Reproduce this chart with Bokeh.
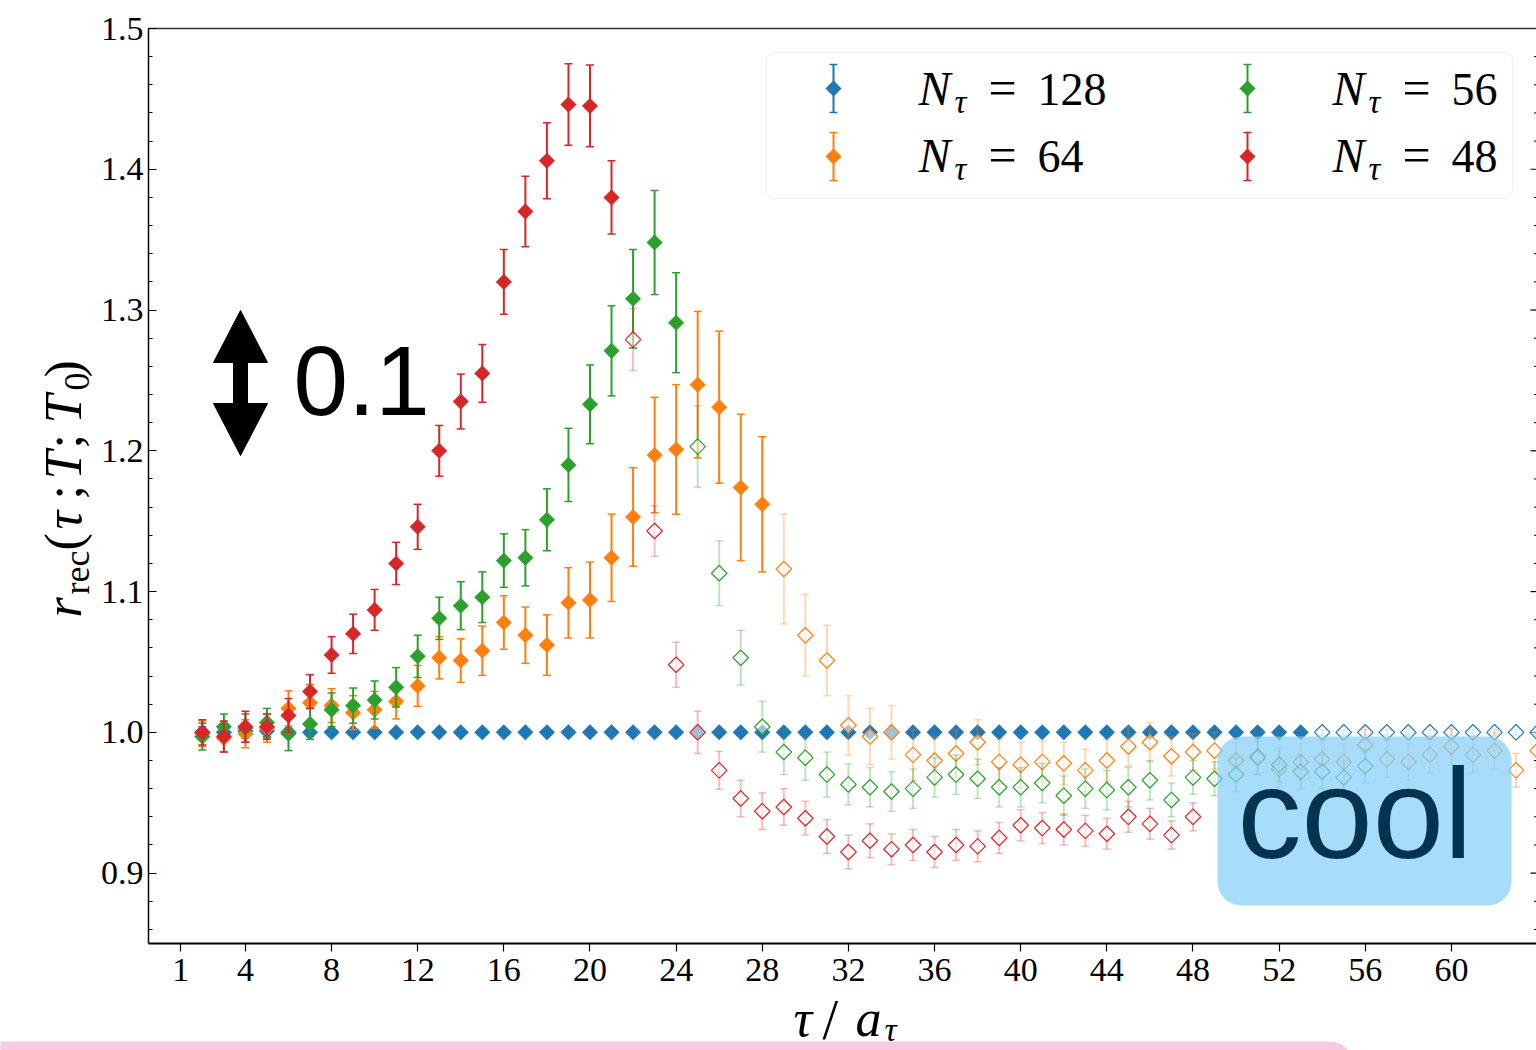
import math
from bokeh.plotting import figure
from bokeh.models import Range1d, LinearAxis, FixedTicker, PrintfTickFormatter, Label, BoxAnnotation
from bokeh.embed import file_html
from bokeh.resources import INLINE

# ---------------- data ----------------
X_TICKS = [1, 4, 8, 12, 16, 20, 24, 28, 32, 36, 40, 44, 48, 52, 56, 60, 64]
Y_TICKS = [0.9, 1.0, 1.1, 1.2, 1.3, 1.4, 1.5]
Y_MINOR = [0.86, 0.88, 0.92, 0.94, 0.96, 0.98, 1.02, 1.04, 1.06, 1.08,
           1.12, 1.14, 1.16, 1.18, 1.22, 1.24, 1.26, 1.28, 1.32, 1.34, 1.36, 1.38,
           1.42, 1.44, 1.46, 1.48]
X_LIM = (-0.5, 63.95)
Y_LIM = (0.85, 1.5)

N_TAU = ["128", "64", "56", "48"]
COLORS = ["#1f77b4", "#ff7f0e", "#2ca02c", "#d62728"]

# N_tau = 128
tau_128_solid = list(range(2, 54))
r_128_solid = [1.000, 1.000, 1.001, 1.001, 1.000, 1.000, 1.000, 1.000, 1.000, 1.000,
               1.000, 1.000, 1.000, 1.000, 1.000, 1.000, 1.000, 1.000, 1.000, 1.000,
               1.000, 1.000, 1.000, 1.000, 1.000, 1.000, 1.000, 1.000, 1.000, 1.000,
               1.000, 1.000, 1.000, 1.000, 1.000, 1.000, 1.000, 1.000, 1.000, 1.000,
               1.000, 1.000, 1.000, 1.000, 1.000, 1.000, 1.000, 1.000, 1.000, 1.000,
               1.000, 1.000]
e_128_solid = [0.004, 0.004, 0.005, 0.005, 0.003, 0.003, 0.002, 0.002, 0.002, 0.002,
               0.002, 0.002, 0.002, 0.002, 0.002, 0.002, 0.002, 0.002, 0.002, 0.002,
               0.002, 0.002, 0.002, 0.002, 0.002, 0.002, 0.002, 0.002, 0.002, 0.002,
               0.002, 0.002, 0.002, 0.002, 0.002, 0.002, 0.002, 0.002, 0.002, 0.002,
               0.002, 0.002, 0.002, 0.002, 0.002, 0.002, 0.002, 0.002, 0.002, 0.002,
               0.002, 0.002]
tau_128_open = list(range(54, 65))
r_128_open = [1.000, 1.000, 1.000, 1.000, 1.000, 1.000, 1.000, 1.000, 1.000, 1.000, 1.000]
e_128_open = [0.002, 0.002, 0.002, 0.002, 0.002, 0.002, 0.002, 0.002, 0.002, 0.002, 0.002]

# N_tau = 64
tau_64_solid = list(range(2, 29))
r_64_solid = [0.999, 0.996, 0.999, 1.003, 1.017, 1.021, 1.019, 1.014, 1.016, 1.022,
              1.033, 1.053, 1.051, 1.058, 1.078, 1.069, 1.062, 1.092, 1.094, 1.124,
              1.153, 1.197, 1.201, 1.247, 1.231, 1.174, 1.162]
e_64_solid = [0.009, 0.010, 0.010, 0.010, 0.0125, 0.013, 0.012, 0.012, 0.013, 0.0125,
              0.0145, 0.015, 0.0155, 0.0175, 0.019, 0.020, 0.0215, 0.025, 0.027, 0.031,
              0.035, 0.041, 0.046, 0.052, 0.054, 0.052, 0.048]
tau_64_open = list(range(29, 65))
r_64_open = [1.116, 1.069, 1.051, 1.005, 0.997, 1.000, 0.984, 0.980, 0.985, 0.993,
             0.979, 0.977, 0.979, 0.978, 0.973, 0.980, 0.990, 0.993, 0.983, 0.986,
             0.987, 0.980, 0.983, 0.974, 0.979, 0.981, 0.979, 0.991, 0.981, 0.979,
             0.984, 0.990, 0.984, 0.987, 0.973, 0.987]
e_64_open = [0.039, 0.029, 0.025, 0.021, 0.020, 0.019, 0.018, 0.017, 0.017, 0.016,
             0.016, 0.016, 0.015, 0.015, 0.015, 0.015, 0.014, 0.014, 0.014, 0.013,
             0.013, 0.013, 0.013, 0.013, 0.013, 0.013, 0.013, 0.013, 0.013, 0.013,
             0.013, 0.013, 0.013, 0.013, 0.012, 0.012]

# N_tau = 56
tau_56_solid = list(range(2, 25))
r_56_solid = [0.997, 1.004, 1.003, 1.007, 0.999, 1.006, 1.016, 1.019, 1.023, 1.032,
              1.054, 1.081, 1.090, 1.096, 1.122, 1.124, 1.151, 1.190, 1.233, 1.271,
              1.308, 1.348, 1.291]
e_56_solid = [0.0095, 0.009, 0.010, 0.010, 0.012, 0.011, 0.012, 0.0125, 0.0135, 0.014,
              0.015, 0.015, 0.017, 0.018, 0.019, 0.020, 0.022, 0.026, 0.028, 0.032,
              0.035, 0.037, 0.0355]
tau_56_open = list(range(25, 57))
r_56_open = [1.203, 1.113, 1.053, 1.004, 0.986, 0.982, 0.970, 0.963, 0.961, 0.958,
             0.960, 0.968, 0.970, 0.967, 0.961, 0.961, 0.964, 0.955, 0.960, 0.959,
             0.961, 0.966, 0.952, 0.968, 0.967, 0.970, 0.982, 0.977, 0.972, 0.972,
             0.968, 0.976]
e_56_open = [0.029, 0.023, 0.0195, 0.018, 0.016, 0.016, 0.016, 0.0145, 0.014, 0.014,
             0.014, 0.014, 0.014, 0.014, 0.014, 0.014, 0.014, 0.014, 0.014, 0.014,
             0.014, 0.014, 0.012, 0.012, 0.012, 0.012, 0.012, 0.012, 0.012, 0.012,
             0.012, 0.012]

# N_tau = 48
tau_48_solid = list(range(2, 22))
r_48_solid = [1.000, 0.997, 1.004, 1.004, 1.012, 1.029, 1.055, 1.070, 1.087, 1.120,
              1.146, 1.200, 1.235, 1.255, 1.320, 1.370, 1.406, 1.446, 1.445, 1.380]
e_48_solid = [0.009, 0.011, 0.011, 0.009, 0.012, 0.012, 0.013, 0.014, 0.0145, 0.015,
              0.016, 0.018, 0.0195, 0.0205, 0.023, 0.025, 0.027, 0.029, 0.029, 0.026]
tau_48_open = list(range(22, 49))
r_48_open = [1.279, 1.143, 1.048, 1.000, 0.973, 0.953, 0.944, 0.947, 0.939, 0.926,
             0.915, 0.923, 0.917, 0.920, 0.915, 0.920, 0.919, 0.925, 0.934, 0.932,
             0.931, 0.930, 0.928, 0.940, 0.935, 0.927, 0.940]
e_48_open = [0.022, 0.018, 0.016, 0.015, 0.0135, 0.013, 0.013, 0.013, 0.012, 0.012,
             0.012, 0.012, 0.011, 0.011, 0.011, 0.011, 0.011, 0.011, 0.011, 0.011,
             0.011, 0.011, 0.011, 0.011, 0.011, 0.010, 0.010]

SERIES = [
    (tau_128_solid, r_128_solid, e_128_solid, tau_128_open, r_128_open, e_128_open),
    (tau_64_solid, r_64_solid, e_64_solid, tau_64_open, r_64_open, e_64_open),
    (tau_56_solid, r_56_solid, e_56_solid, tau_56_open, r_56_open, e_56_open),
    (tau_48_solid, r_48_solid, e_48_solid, tau_48_open, r_48_open, e_48_open),
]

# ---------------- layout ----------------
# The frame fills the whole canvas; the plotting box (axes) sits at these pixels.
W, H = 1536, 1050
LEFT, TOP, RIGHT, BOTTOM = 148, 28, 1536, 943
SX = (RIGHT - LEFT) / (X_LIM[1] - X_LIM[0])
SY = (BOTTOM - TOP) / (Y_LIM[1] - Y_LIM[0])
x_range = Range1d(X_LIM[0] - LEFT / SX, X_LIM[1] + (W - RIGHT) / SX)
y_range = Range1d(Y_LIM[0] - (H - BOTTOM) / SY, Y_LIM[1] + TOP / SY)

p = figure(width=W, height=H, output_backend="svg", toolbar_location=None,
           x_range=x_range, y_range=y_range,
           x_axis_location=None, y_axis_location=None,
           min_border=0, min_border_left=0, min_border_right=0,
           min_border_top=0, min_border_bottom=0)
p.outline_line_color = None
p.background_fill_color = "white"
p.border_fill_color = "white"
p.xgrid.grid_line_color = None
p.ygrid.grid_line_color = None

# overlay coordinate system = canvas pixels (origin top-left)
p.extra_x_ranges = {"px": Range1d(0, W)}
p.extra_y_ranges = {"py": Range1d(H, 0)}
OV = dict(x_range_name="px", y_range_name="py")

SERIF = "Liberation Serif"
SANS = "Liberation Sans"
BASE = 0.355  # shift of Bokeh's alphabetic anchor, in em

# axes (drawn at fixed data locations)
yax = LinearAxis(fixed_location=X_LIM[0], bounds=Y_LIM,
                 ticker=FixedTicker(ticks=Y_TICKS, minor_ticks=Y_MINOR),
                 formatter=PrintfTickFormatter(format="%.1f"),
                 major_tick_in=8, major_tick_out=0, minor_tick_in=4, minor_tick_out=0,
                 axis_line_width=1.5, axis_line_color="black",
                 major_tick_line_width=1.2, minor_tick_line_width=1,
                 major_label_text_font=SERIF, major_label_text_font_size="34px",
                 major_label_text_color="black", major_label_standoff=5)
p.add_layout(yax, "left")

xax = LinearAxis(fixed_location=Y_LIM[0], bounds=(X_LIM[0], 64.05),
                 ticker=FixedTicker(ticks=X_TICKS),
                 major_tick_in=0, major_tick_out=8,
                 axis_line_width=2, axis_line_color="black",
                 major_tick_line_width=1.2, minor_tick_line_color=None,
                 major_label_text_font=SERIF, major_label_text_font_size="34px",
                 major_label_text_color="black", major_label_standoff=7)
p.add_layout(xax, "below")

tax = LinearAxis(fixed_location=Y_LIM[1], bounds=X_LIM,
                 ticker=FixedTicker(ticks=[]), axis_line_color="#333333", axis_line_width=1.3,
                 major_tick_out=0, major_tick_in=0, minor_tick_out=0, minor_tick_in=0,
                 major_label_text_font_size="0px", major_label_standoff=0)
p.add_layout(tax, "above")

# inward ticks of the (cropped) right spine
p.scatter(x=[X_LIM[1]] * len(Y_TICKS), y=Y_TICKS, marker="dash", size=12,
          line_color="black", line_width=1.2)
p.scatter(x=[X_LIM[1]] * len(Y_MINOR), y=Y_MINOR, marker="dash", size=5,
          line_color="black", line_width=1)

# pink strip at the bottom (behind everything)
p.add_layout(BoxAnnotation(left=-20, right=1352, top=1041, bottom=1090,
                           fill_color="#F7C9E3", fill_alpha=1.0, line_color=None,
                           border_radius=22, level="underlay", **OV))

# ---------------- data marks ----------------
MSIZE = 11
DIAMOND = math.pi / 4


def errorbars(tau, r, e, color, alpha, lw, **kw):
    lo = [a - b for a, b in zip(r, e)]
    hi = [a + b for a, b in zip(r, e)]
    p.segment(x0=tau, y0=lo, x1=tau, y1=hi, line_color=color, line_alpha=alpha, line_width=lw, **kw)
    p.scatter(x=tau + tau, y=lo + hi, marker="dash", size=8, line_color=color,
              line_alpha=alpha, line_width=1.5, **kw)


for (ts, rs, es, to, ro, eo), color in zip(SERIES, COLORS):
    errorbars(ts, rs, es, color, 1.0, 2)
    p.scatter(x=ts, y=rs, marker="square", angle=DIAMOND, size=MSIZE,
              fill_color=color, line_color=color, line_width=0.5)
    errorbars(to, ro, eo, color, 0.3, 2)
    p.scatter(x=to, y=ro, marker="square", angle=DIAMOND, size=MSIZE,
              fill_color="white", fill_alpha=0.55, line_color=color, line_alpha=0.95,
              line_width=1.3)


# ---------------- text helper (canvas pixels, X/Y = start of baseline) ----------------
def piece(X, Y, text, size, italic=False, angle=0.0, font=SERIF, color="black"):
    if angle == 0.0:
        ax, ay = X, Y - BASE * size
    else:
        ax, ay = X - BASE * size, Y
    p.add_layout(Label(x=ax, y=ay, text=text, text_font=font,
                       text_font_style="italic" if italic else "normal",
                       text_font_size=f"{size}px", text_color=color, angle=angle,
                       text_baseline="alphabetic", text_align="left", **OV))


# ---------------- legend ----------------
p.add_layout(BoxAnnotation(left=766, right=1512, top=52, bottom=198,
                           fill_color="white", fill_alpha=0.8, line_color="#cccccc",
                           line_width=1, border_radius=8, level="underlay", **OV))

LEG_POS = [(833, 88, 918, 105), (833, 156, 918, 172), (1247, 88, 1332, 105), (1247, 156, 1332, 172)]
for (mx, my, tx, ty), color, lab in zip(LEG_POS, COLORS, N_TAU):
    errorbars([mx], [my], [24], color, 1.0, 2, **OV)
    p.scatter(x=[mx], y=[my], marker="square", angle=DIAMOND, size=MSIZE,
              fill_color=color, line_color=color, line_width=0.5, **OV)
    piece(tx, ty, "N", 48, True)
    piece(tx + 36, ty + 8, "τ", 33, True)
    piece(tx + 70, ty, "=", 50)
    piece(tx + 119, ty, lab, 46)

# ---------------- axis titles (math pieces) ----------------
# x title: tau / a_tau
piece(793, 1036, "τ", 52, True)
piece(822, 1039, "/", 56)
piece(855, 1036, "a", 52, True)
piece(884, 1041, "τ", 34, True)

# y title: r_rec(tau; T; T_0), rotated
R = math.pi / 2
piece(81, 617, "r", 52, True, R)
piece(89, 594, "rec", 36, False, R)
piece(81, 550, "(", 52, False, R)
piece(81, 529, "τ", 52, True, R)
piece(81, 499, ";", 52, False, R)
piece(81, 479, "T", 52, True, R)
piece(81, 448, ";", 52, False, R)
piece(81, 423, "T", 52, True, R)
piece(89, 390, "0", 36, False, R)
piece(81, 377, ")", 52, False, R)

# ---------------- overlays ----------------
# scale arrow
AX, ATOP, ABOT, HW, HL, SW = 240, 310, 455, 27, 52, 7
arrow_x = [AX, AX + HW, AX + SW, AX + SW, AX + HW, AX, AX - HW, AX - SW, AX - SW, AX - HW]
arrow_y = [ATOP, ATOP + HL, ATOP + HL, ABOT - HL, ABOT - HL, ABOT, ABOT - HL, ABOT - HL, ATOP + HL, ATOP + HL]
p.patch(x=arrow_x, y=arrow_y, fill_color="black", line_color="black", line_width=1, **OV)
piece(293, 415, "0.1", 98, font=SANS)

# "cool" badge (translucent, marks show through)
p.add_layout(BoxAnnotation(left=1217, right=1511, top=736, bottom=905,
                           fill_color="#81CEF9", fill_alpha=0.7, line_color=None,
                           border_radius=24, **OV))
piece(1237, 858, "cool", 128, font=SANS, color="#01344F")

open("out.html", "w").write(file_html(p, INLINE))
